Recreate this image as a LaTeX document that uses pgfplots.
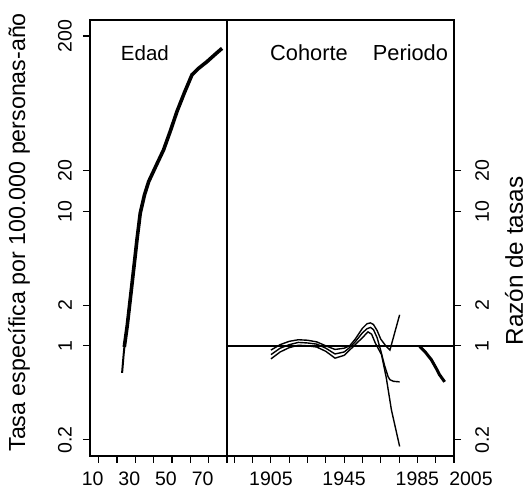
\documentclass[border=0pt]{standalone}
\usepackage{graphicx}
\usepackage{pgfplots}
\pgfplotsset{compat=1.18}
\usepackage{fontspec}
\setmainfont{Liberation Sans}
\newcommand{\rl}[1]{\rotatebox{90}{#1}}
\begin{document}
\begin{tikzpicture}
\path[use as bounding box] (0,0) rectangle (528pt,489pt);
\begin{axis}[scale only axis, anchor=south west, height=436pt,
  ymode=log, ymin=0.152, ymax=263,
  axis line style={line width=1.1pt},
  tick align=outside, major tick length=7pt,
  every tick/.style={line width=1.1pt, black},
  xminorticks=false, yminorticks=false,
  ticklabel style={font=\fontsize{19.5}{20}\selectfont},
  at={(90pt,33pt)}, width=137pt, xmin=5.3, xmax=80,
  xtick={10,20,...,80}, xticklabels={10,,30,,50,,70,},
  xticklabel style={anchor=north, inner sep=0pt, xshift=-6pt, yshift=-9pt},
  xtick pos=left, ytick pos=left,
  ytick={0.2,1,2,10,20,200}, yticklabels={\rl{0.2},\rl{1},\rl{2},\rl{10},\rl{20},\rl{200}},
  yticklabel style={anchor=east, inner sep=0pt, xshift=-11pt},
  ylabel={Tasa específica por 100.000 personas-año},
  ylabel style={font=\fontsize{23.2}{24}\selectfont, at={(rel axis cs:-0.518,0.513)}, anchor=center},
]
\addplot[line width=2pt, black] coordinates {(22.8,0.63) (23.6,0.85) (24.3,1.06)};
\addplot[line width=3.6pt, black] coordinates {(24.0,0.98) (25.6,1.41) (27.8,2.58) (30.0,4.74) (30.9,6.12) (32.7,9.67) (35.0,13.2) (37.3,16.6) (41.5,22.0) (45.4,28.5) (49.0,39.0) (52.7,54.9) (56.8,76.0) (60.9,103) (64.5,115) (69.1,129) (73.5,146) (77.3,162)};
\node[font=\fontsize{20.5}{21}\selectfont] at (rel axis cs:0.401,0.924) {Edad};
\end{axis}
\begin{axis}[scale only axis, anchor=south west, height=436pt,
  ymode=log, ymin=0.152, ymax=263,
  axis line style={line width=1.1pt},
  tick align=outside, major tick length=7pt,
  every tick/.style={line width=1.1pt, black},
  xminorticks=false, yminorticks=false,
  ticklabel style={font=\fontsize{19.5}{20}\selectfont},
  at={(227pt,33pt)}, width=227pt, xmin=1881, xmax=2005,
  xtick={1885,1895,...,1995}, xticklabels={,,1905,,,,1945,,,,1985,},
  xticklabel style={anchor=north, inner sep=0pt, yshift=-9pt},
  extra x ticks={2005}, extra x tick labels={2005},
  extra x tick style={xticklabel style={xshift=17pt}},
  xtick pos=left, ytick pos=right, yticklabel pos=right,
  ytick={0.2,1,2,10,20}, yticklabels={\rl{0.2},\rl{1},\rl{2},\rl{10},\rl{20}},
  yticklabel style={anchor=west, inner sep=0pt, xshift=14pt},
  ylabel={Razón de tasas},
  ylabel style={font=\fontsize{24.3}{25}\selectfont, at={(rel axis cs:1.265,0.447)}, anchor=center},
]
\addplot[line width=1.7pt, black] coordinates {(1881,1) (2005,1)};
% cohort upper CI
\addplot[line width=1.4pt, black] coordinates {(1905,0.93) (1910,1.02) (1915,1.08) (1920,1.11) (1925,1.10) (1930,1.07) (1935,1.00) (1940,0.94) (1945,0.96) (1948,1.0) (1951,1.12) (1955,1.35) (1957.5,1.46) (1959.4,1.48) (1961,1.44) (1963,1.30) (1965,1.12) (1968,0.99) (1970,0.93) (1975.3,1.70)};
% cohort estimate
\addplot[line width=1.4pt, black] coordinates {(1905,0.86) (1910,0.96) (1915,1.02) (1920,1.06) (1925,1.05) (1930,1.03) (1935,0.96) (1940,0.87) (1945,0.90) (1948,0.97) (1951,1.07) (1955,1.25) (1957.5,1.34) (1959.4,1.37) (1961,1.32) (1963,1.15) (1965,0.92) (1967,0.72) (1969,0.59) (1970,0.56) (1972,0.545) (1975.3,0.54)};
% cohort lower CI
\addplot[line width=1.4pt, black] coordinates {(1905,0.80) (1910,0.90) (1915,0.97) (1920,1.01) (1925,1.00) (1930,0.98) (1935,0.91) (1940,0.81) (1945,0.85) (1948,0.93) (1951,1.02) (1955,1.15) (1958,1.27) (1960,1.22) (1962,1.05) (1965.4,0.86) (1968,0.58) (1970.8,0.335) (1975.3,0.179)};
% period
\addplot[line width=3pt, black] coordinates {(1986.2,0.99) (1989.0,0.91) (1992.6,0.79) (1995.3,0.68) (1997.1,0.61) (1999.9,0.54)};
\node[font=\fontsize{21.8}{22}\selectfont] at (rel axis cs:0.361,0.924) {Cohorte};
\node[font=\fontsize{21.8}{22}\selectfont] at (rel axis cs:0.808,0.924) {Periodo};
\end{axis}
\end{tikzpicture}
\end{document}
